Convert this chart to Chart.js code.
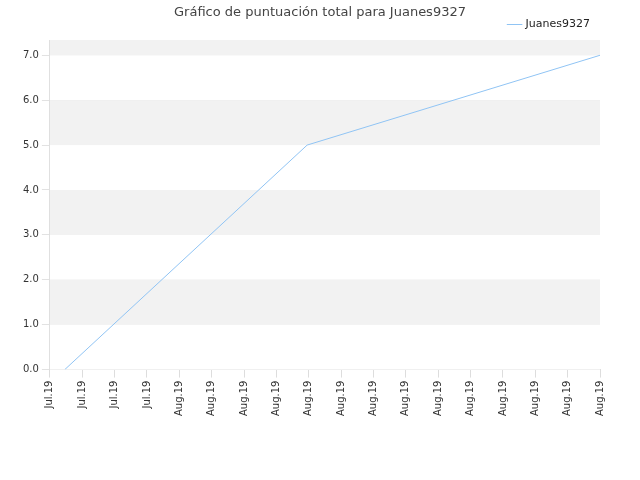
<!DOCTYPE html>
<html><head><meta charset="utf-8">
<script src="https://cdn.jsdelivr.net/npm/chart.js@4/dist/chart.umd.min.js"></script>
<style>body{margin:0;background:#fff}#w{width:640px;height:480px}</style>
</head><body><div id="w"><canvas id="c"></canvas></div>
<script>
const tickLabels=["Jul.19","Jul.19","Jul.19","Jul.19","Aug.19","Aug.19","Aug.19","Aug.19","Aug.19","Aug.19","Aug.19","Aug.19","Aug.19","Aug.19","Aug.19","Aug.19","Aug.19","Aug.19"];
const xValues=[0.46,7.95,17];
const yValues=[0,5,7];
const seriesName="Juanes9327";
const titleText="Gráfico de puntuación total para Juanes9327";
const bands={id:'bands',beforeDatasetsDraw(ch){const {ctx,chartArea:a,scales:{y}}=ch;ctx.save();
 const edges=[y.max,7,6,5,4,3,2,1,0];
 for(let i=0;i<edges.length-1;i++){ctx.fillStyle=i%2===0?'#f2f2f2':'#ffffff';const t=y.getPixelForValue(edges[i]),b=y.getPixelForValue(edges[i+1]);ctx.fillRect(a.left,t,a.right-a.left,b-t);}
 ctx.restore();}};
const title={id:'ttl',afterDraw(ch){const c=ch.ctx;c.save();c.font='13px "DejaVu Sans"';c.fillStyle='#444';c.textAlign='center';c.textBaseline='middle';c.fillText(titleText,320,13);c.restore();}};
new Chart(document.getElementById('c'),{type:'line',
data:{datasets:[{label:seriesName,data:xValues.map((x,i)=>({x,y:yValues[i]})),borderColor:'#90c4f4',backgroundColor:'#90c4f4',borderWidth:1,pointRadius:0,tension:0}]},
options:{responsive:true,maintainAspectRatio:false,animation:false,
layout:{padding:{left:20,right:40,top:9,bottom:61}},
plugins:{legend:{align:'end',labels:{usePointStyle:true,pointStyle:'line',boxWidth:12,color:'#222',font:{family:'DejaVu Sans',size:11}}},title:{display:false},tooltip:{enabled:false}},
scales:{x:{type:'linear',min:0,max:17,afterBuildTicks(s){s.ticks=tickLabels.map((_,i)=>({value:i}));},
 ticks:{autoSkip:false,maxRotation:90,minRotation:90,color:'#333',font:{family:'DejaVu Sans',size:10},callback:(v,i)=>tickLabels[i]},
 grid:{display:true,drawOnChartArea:false,color:'#ddd'},border:{color:'#ddd'}},
y:{min:0,max:7.34,afterBuildTicks(s){s.ticks=[0,1,2,3,4,5,6,7].map(v=>({value:v}));},
 ticks:{color:'#333',font:{family:'DejaVu Sans',size:10},callback:v=>v.toFixed(1)},
 grid:{color:'#e2e2e2'},border:{color:'#ddd'}}}},
plugins:[bands,title]});
</script></body></html>
